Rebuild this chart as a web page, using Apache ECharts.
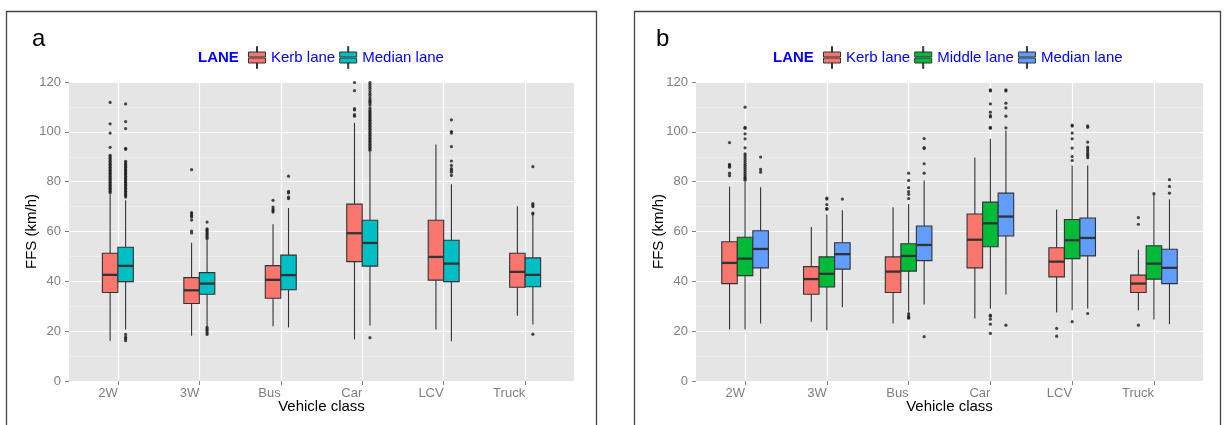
<!DOCTYPE html>
<html>
<head>
<meta charset="utf-8">
<script src="https://cdn.jsdelivr.net/npm/echarts@6/dist/echarts.min.js"></script>
<style>
  html, body { margin: 0; padding: 0; background: #fff; }
  #chart { width: 1226px; height: 425px; }
</style>
</head>
<body>
<div id="chart"></div>
<script>
// categories on the x axis
const categories = ["2W", "3W", "Bus", "Car", "LCV", "Truck"];
const yTicks = [0, 20, 40, 60, 80, 100, 120];

// box stats per category: [lower whisker, Q1, median, Q3, upper whisker]
// panel a (two lanes)
const kerbA = [
  [16.2, 35.5, 42.6, 51.3, 75.0],
  [18.2, 31.1, 36.4, 41.5, 55.5],
  [22.0, 33.2, 40.6, 46.3, 62.9],
  [16.7, 47.9, 59.3, 71.0, 103.6],
  [20.7, 40.5, 49.8, 64.5, 94.9],
  [26.2, 37.6, 43.8, 51.3, 70.1]
];
const medianA = [
  [20.7, 39.9, 46.2, 53.7, 72.5],
  [21.8, 34.8, 39.1, 43.5, 56.5],
  [21.5, 36.6, 42.5, 50.5, 69.4],
  [22.3, 46.1, 55.4, 64.5, 92.1],
  [16.0, 39.9, 47.1, 56.5, 79.0],
  [22.7, 37.8, 42.6, 49.4, 66.5]
];
// outliers per category
const kerbAOut = [
  [75.6, 76.2, 76.8, 77.4, 78.0, 78.6, 79.2, 79.8, 80.4, 81.0, 81.6, 82.2, 82.8, 83.4, 84.0, 84.6, 85.2, 85.8, 86.4, 87.0, 87.6, 88.2, 88.8, 89.4, 90.0, 90.6, 93.8, 99.5, 103.2, 111.8],
  [59.4, 60.2, 64.6, 65.8, 66.4, 67.0, 67.6, 84.8],
  [67.8, 68.4, 69.0, 69.8, 72.5],
  [106.3, 106.9, 108.8, 109.3, 116.5, 119.8],
  [],
  []
];
const medianAOut = [
  [16.2, 17.0, 17.6, 18.7, 73.8, 74.4, 75.0, 75.6, 76.2, 76.8, 77.4, 78.0, 78.6, 79.2, 79.8, 80.4, 81.0, 81.6, 82.2, 82.8, 83.4, 84.0, 84.6, 85.2, 85.8, 86.4, 87.0, 87.6, 88.2, 93.0, 93.4, 101.3, 104.1, 111.2],
  [18.7, 19.4, 20.1, 20.8, 21.5, 57.1, 57.7, 58.3, 58.9, 59.5, 60.1, 60.7, 61.1, 63.8],
  [73.2, 73.8, 75.5, 76.1, 82.2],
  [17.4, 92.6, 93.2, 93.8, 94.4, 95.0, 95.6, 96.2, 96.8, 97.4, 98.0, 98.6, 99.2, 99.8, 100.4, 101.0, 101.6, 102.2, 102.8, 103.4, 104.0, 104.6, 105.2, 105.8, 106.4, 107.0, 107.6, 108.2, 108.8, 109.6, 110.8, 111.6, 112.2, 112.8, 113.6, 114.6, 115.4, 116.4, 117.4, 118.2, 119.0, 119.8],
  [82.5, 83.8, 84.6, 85.2, 86.5, 88.3, 94.1, 99.5, 100.1, 104.8],
  [18.8, 67.0, 67.4, 70.0, 70.6, 71.2, 86.0]
];

// panel b (three lanes)
const kerbB = [
  [20.7, 39.1, 47.4, 55.9, 78.0],
  [23.8, 34.8, 40.9, 45.9, 61.8],
  [23.1, 35.5, 43.9, 49.8, 69.7],
  [25.1, 45.4, 56.7, 67.0, 89.7],
  [27.5, 41.8, 47.9, 53.5, 68.8],
  [28.4, 35.5, 39.1, 42.5, 52.7]
];
const middleB = [
  [20.7, 42.3, 49.1, 57.7, 80.0],
  [20.4, 37.7, 43.0, 49.8, 66.8],
  [27.8, 44.1, 50.2, 55.1, 71.0],
  [29.0, 53.9, 63.3, 71.8, 97.2],
  [28.4, 49.1, 56.5, 64.8, 86.5],
  [24.7, 40.9, 47.1, 54.3, 75.0]
];
const medianB = [
  [23.1, 45.4, 53.0, 60.3, 77.8],
  [29.6, 44.9, 50.9, 55.5, 68.5],
  [30.7, 48.3, 54.6, 62.2, 80.5],
  [34.7, 58.2, 66.0, 75.4, 100.5],
  [29.1, 50.2, 57.4, 65.4, 86.5],
  [22.8, 39.1, 45.4, 52.9, 72.9]
];
const kerbBOut = [
  [82.4, 83.4, 85.8, 86.4, 86.9, 95.7],
  [],
  [],
  [],
  [18.0, 21.1],
  [22.4, 62.9, 65.6]
];
const middleBOut = [
  [80.6, 81.2, 81.8, 82.5, 83.3, 84.1, 84.9, 85.7, 86.5, 87.3, 88.1, 88.9, 89.7, 90.5, 91.2, 93.6, 97.2, 99.2, 101.4, 101.8, 109.9],
  [68.9, 69.3, 70.8, 73.0, 73.4],
  [25.2, 25.6, 26.2, 27.1, 73.2, 74.9, 76.0, 77.6, 80.5, 83.4],
  [19.1, 22.8, 24.8, 26.0, 26.4, 101.4, 101.8, 106.0, 106.5, 107.9, 111.2, 116.4, 116.8],
  [23.8, 88.5, 90.1, 93.5, 97.2, 99.5, 102.3, 102.7],
  [75.2]
];
const medianBOut = [
  [83.8, 84.9, 89.9],
  [73.0],
  [17.8, 83.4, 87.2, 93.3, 93.7, 97.3],
  [22.4, 101.6, 106.3, 109.6, 111.5, 116.4, 116.8],
  [27.1, 89.6, 90.3, 90.9, 91.6, 92.4, 93.2, 93.9, 95.9, 101.8, 102.4],
  [75.4, 78.1, 80.8]
];

const FONT = "'Liberation Sans', Arial, sans-serif";
const OUTLINE = "#333333";
const BOX_W = 0.19; // box width in category units
const xTicks = categories.map((c, i) => i + 1);

// legend key glyph: whisker stubs + box split by the median
const keyIcon = "path://M8.5,0h1v5.5h-1zM0.5,5.5h17v5h-17zM0.5,11.5h17v5h-17zM8.5,16.5h1v5.5h-1z";

function renderBox(params, api) {
  const x = api.value(0);
  const lo = api.coord([x, api.value(1)]);
  const q1 = api.coord([x, api.value(2)]);
  const md = api.coord([x, api.value(3)]);
  const q3 = api.coord([x, api.value(4)]);
  const hi = api.coord([x, api.value(5)]);
  const l = api.coord([x - BOX_W / 2, 0])[0];
  const r = api.coord([x + BOX_W / 2, 0])[0];
  const color = api.visual("color");
  return {
    type: "group",
    children: [
      { type: "line", shape: { x1: lo[0], y1: lo[1], x2: q1[0], y2: q1[1] }, style: { stroke: OUTLINE, lineWidth: 1.1 } },
      { type: "line", shape: { x1: q3[0], y1: q3[1], x2: hi[0], y2: hi[1] }, style: { stroke: OUTLINE, lineWidth: 1.1 } },
      { type: "rect", shape: { x: l, y: q3[1], width: r - l, height: q1[1] - q3[1] }, style: { fill: color, stroke: OUTLINE, lineWidth: 1.1 } },
      { type: "line", shape: { x1: l, y1: md[1], x2: r, y2: md[1] }, style: { stroke: OUTLINE, lineWidth: 2.3 } }
    ]
  };
}

function boxSeries(name, stats, offset, color, g) {
  return {
    name: name,
    type: "custom",
    xAxisIndex: g,
    yAxisIndex: g,
    renderItem: renderBox,
    itemStyle: { color: color },
    encode: { x: 0, y: [1, 2, 3, 4, 5] },
    data: stats.map((s, i) => [i + 1 + offset].concat(s)),
    z: 2
  };
}

function outlierSeries(name, outs, offset, g) {
  const pts = [];
  outs.forEach((list, i) => list.forEach(v => pts.push([i + 1 + offset, v])));
  return {
    name: name,
    type: "scatter",
    xAxisIndex: g,
    yAxisIndex: g,
    symbolSize: 3.2,
    itemStyle: { color: "#1a1a1a" },
    data: pts,
    z: 3,
    silent: true
  };
}

function xAxisFor(g) {
  return {
    type: "value",
    gridIndex: g,
    min: 0.4,
    max: 6.6,
    axisLine: { show: false },
    axisTick: { show: true, length: 4, customValues: xTicks, lineStyle: { color: "#7f7f7f", width: 1 } },
    axisLabel: {
      customValues: xTicks,
      formatter: v => categories[Math.round(v) - 1],
      align: "right",
      margin: 6,
      color: "#7f7f7f",
      fontSize: 13,
      fontFamily: FONT
    },
    splitLine: { show: true, lineStyle: { color: "#ffffff", width: 1.2 } },
    name: "Vehicle class",
    nameLocation: "middle",
    nameGap: 18,
    nameMoveOverlap: false,
    nameTextStyle: { color: "#000", fontSize: 15, fontFamily: FONT }
  };
}

function yAxisFor(g) {
  return {
    type: "value",
    gridIndex: g,
    min: 0,
    max: 120,
    interval: 20,
    axisLine: { show: false },
    axisTick: { show: true, length: 4, lineStyle: { color: "#7f7f7f", width: 1 } },
    axisLabel: { color: "#7f7f7f", fontSize: 13, margin: 8, fontFamily: FONT, customValues: yTicks },
    splitLine: { show: true, lineStyle: { color: "#ffffff", width: 1.2 } },
    minorTick: { show: false, splitNumber: 2 },
    minorSplitLine: { show: true, lineStyle: { color: "#f2f2f2", width: 0.6 } },
    name: "FFS (km/h)",
    nameLocation: "middle",
    nameGap: 30,
    nameMoveOverlap: false,
    nameTextStyle: { color: "#000", fontSize: 15, fontFamily: FONT }
  };
}

function legendFor(left, items) {
  return {
    left: left,
    top: 46,
    orient: "horizontal",
    padding: 0,
    itemGap: 4,
    itemWidth: 18,
    itemHeight: 22,
    icon: keyIcon,
    selectedMode: false,
    itemStyle: { borderColor: OUTLINE, borderWidth: 1 },
    textStyle: { color: "#0000ff", fontSize: 15, fontFamily: FONT },
    data: items.map(it => ({ name: it[0], itemStyle: { color: it[1], borderColor: OUTLINE, borderWidth: 1 } }))
  };
}

const chart = echarts.init(document.getElementById("chart"), null, { renderer: "canvas" });

chart.setOption({
  animation: false,
  backgroundColor: "#ffffff",
  grid: [
    { left: 69, top: 82, width: 505, height: 299, show: true, backgroundColor: "#e5e5e5", borderWidth: 0 },
    { left: 696, top: 82, width: 507, height: 299, show: true, backgroundColor: "#e5e5e5", borderWidth: 0 }
  ],
  xAxis: [xAxisFor(0), xAxisFor(1)],
  yAxis: [yAxisFor(0), yAxisFor(1)],
  legend: [
    legendFor(248, [["Kerb lane", "#F8766D"], ["Median lane", "#00BFC4"]]),
    legendFor(823, [["Kerb lane", "#F8766D"], ["Middle lane", "#00BA38"], ["Median lane", "#619CFF"]])
  ],
  graphic: [
    { type: "rect", shape: { x: 6.5, y: 11.5, width: 590, height: 430 }, style: { fill: "none", stroke: "#444", lineWidth: 1.3 }, silent: true },
    { type: "rect", shape: { x: 634.5, y: 11.5, width: 586, height: 430 }, style: { fill: "none", stroke: "#444", lineWidth: 1.3 }, silent: true },
    { type: "text", style: { x: 32, y: 39, text: "a", font: "24px " + FONT, fill: "#000", verticalAlign: "middle" } },
    { type: "text", style: { x: 656, y: 39, text: "b", font: "24px " + FONT, fill: "#000", verticalAlign: "middle" } },
    { type: "text", style: { x: 198, y: 58, text: "LANE", font: "bold 15px " + FONT, fill: "#0000ff", verticalAlign: "middle" } },
    { type: "text", style: { x: 773, y: 58, text: "LANE", font: "bold 15px " + FONT, fill: "#0000ff", verticalAlign: "middle" } }
  ],
  series: [
    boxSeries("Kerb lane", kerbA, -0.095, "#F8766D", 0),
    boxSeries("Median lane", medianA, 0.095, "#00BFC4", 0),
    outlierSeries("Kerb lane out a", kerbAOut, -0.095, 0),
    outlierSeries("Median lane out a", medianAOut, 0.095, 0),
    boxSeries("Kerb lane", kerbB, -0.19, "#F8766D", 1),
    boxSeries("Middle lane", middleB, 0, "#00BA38", 1),
    boxSeries("Median lane", medianB, 0.19, "#619CFF", 1),
    outlierSeries("Kerb lane out b", kerbBOut, -0.19, 1),
    outlierSeries("Middle lane out b", middleBOut, 0, 1),
    outlierSeries("Median lane out b", medianBOut, 0.19, 1)
  ]
});
</script>
</body>
</html>
